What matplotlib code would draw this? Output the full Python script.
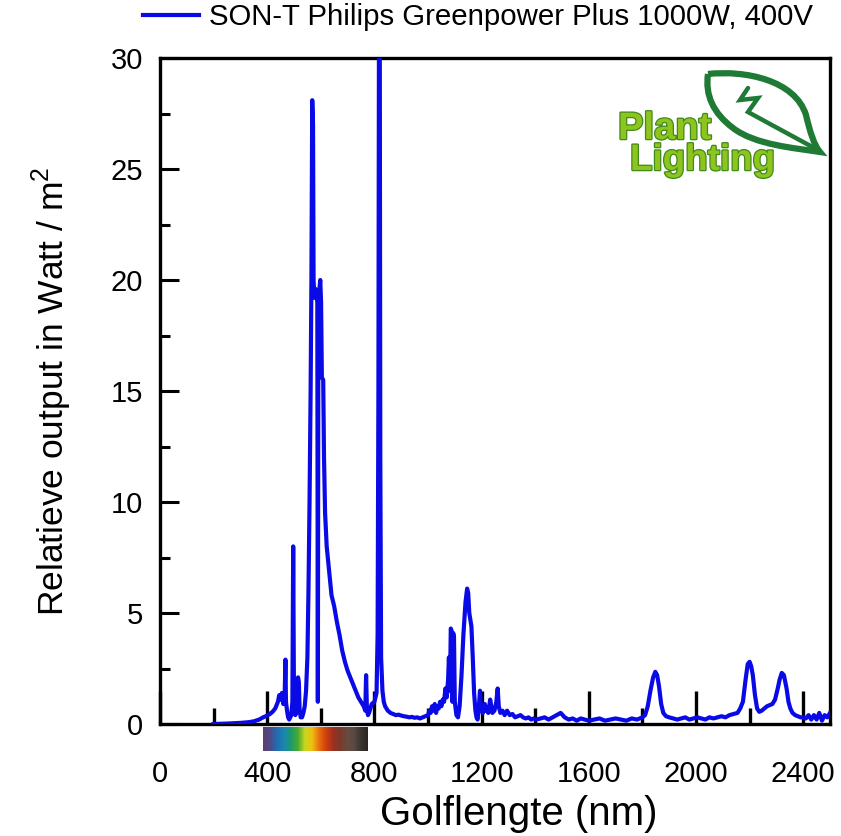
import numpy as np
import matplotlib
matplotlib.use("Agg")
import matplotlib.pyplot as plt
from matplotlib.ticker import MultipleLocator
from matplotlib.colors import LinearSegmentedColormap
from matplotlib.path import Path
from matplotlib.patches import PathPatch
import matplotlib.patheffects as pe

plt.rcParams['font.family'] = ['Liberation Sans', 'DejaVu Sans']
plt.rcParams['mathtext.fontset'] = 'custom'
plt.rcParams['mathtext.rm'] = 'Liberation Sans'

# Spectrum (golflengte in nm, output in W/m2)
golflengte = [
    200, 250, 300, 330, 350, 370, 385, 400, 410, 420, 430, 440, 445, 450, 455, 460, 465, 468, 470, 474,
    478, 482, 486, 490, 494, 497, 500, 505, 510, 515, 518, 521, 525, 530, 535, 540, 545, 550, 554, 558,
    562, 565, 568, 571, 573, 576, 580, 584, 587, 589, 591, 594, 598, 601, 604, 609, 612, 616, 622, 630,
    640, 650, 660, 670, 680, 690, 700, 710, 720, 730, 740, 750, 760, 766, 769, 772, 776, 780, 790, 800,
    808, 812, 815, 817, 820, 822, 825, 830, 835, 840, 850, 860, 870, 880, 890, 900, 910, 920, 930, 940,
    950, 960, 970, 980, 990, 1000, 1005, 1010, 1015, 1020, 1025, 1030, 1035, 1040, 1045, 1050, 1055, 1060, 1065, 1070,
    1075, 1078, 1082, 1085, 1088, 1091, 1094, 1097, 1100, 1106, 1112, 1118, 1125, 1132, 1140, 1146, 1150, 1154, 1158, 1162,
    1167, 1172, 1177, 1181, 1185, 1190, 1194, 1198, 1205, 1212, 1218, 1225, 1232, 1240, 1248, 1255, 1260, 1264, 1270, 1278,
    1286, 1295, 1305, 1315, 1325, 1335, 1345, 1355, 1365, 1375, 1385, 1395, 1405, 1420, 1435, 1450, 1465, 1480, 1495, 1510,
    1525, 1540, 1555, 1570, 1585, 1600, 1620, 1640, 1660, 1680, 1700, 1720, 1740, 1760, 1780, 1800, 1810, 1820, 1830, 1840,
    1848, 1855, 1862, 1870, 1878, 1888, 1900, 1915, 1930, 1945, 1960, 1975, 1990, 2005, 2020, 2035, 2050, 2065, 2080, 2095,
    2110, 2125, 2140, 2155, 2165, 2175, 2185, 2193, 2200, 2206, 2212, 2220, 2228, 2236, 2245, 2255, 2265, 2275, 2285, 2295,
    2305, 2312, 2320, 2328, 2333, 2338, 2345, 2352, 2360, 2370, 2380, 2390, 2400, 2410, 2420, 2430, 2440, 2450, 2460, 2470,
    2480, 2490, 2500,
]
output = [
    0.00, 0.02, 0.05, 0.08, 0.12, 0.20, 0.30, 0.38, 0.45, 0.55, 0.70, 1.00, 1.30, 1.10, 1.40, 0.90, 1.20, 2.90, 1.00, 0.60,
    0.30, 0.20, 0.30, 0.40, 1.00, 8.00, 0.80, 0.40, 0.60, 2.10, 1.90, 0.60, 0.30, 0.30, 0.50, 0.80, 1.50, 3.00, 6.00, 10.0,
    15.0, 20.0, 28.1, 27.0, 20.0, 19.2, 19.6, 19.3, 19.0, 1.00, 19.0, 19.5, 20.0, 19.0, 15.6, 15.5, 12.0, 9.50, 8.00, 7.00,
    5.80, 5.30, 4.60, 4.00, 3.30, 2.80, 2.40, 2.10, 1.80, 1.50, 1.20, 1.00, 0.80, 0.60, 2.20, 0.70, 0.40, 0.50, 0.90, 1.00,
    1.40, 4.00, 15.0, 31.0, 31.0, 12.0, 3.00, 1.50, 1.00, 0.80, 0.60, 0.50, 0.45, 0.40, 0.42, 0.38, 0.35, 0.33, 0.30, 0.32,
    0.28, 0.30, 0.25, 0.30, 0.35, 0.40, 0.60, 0.50, 0.80, 0.60, 0.90, 0.50, 0.80, 0.70, 1.00, 0.80, 1.10, 1.00, 1.60, 1.20,
    2.00, 3.00, 1.50, 4.30, 4.20, 1.00, 4.10, 3.90, 1.00, 0.40, 0.30, 0.80, 2.20, 4.00, 5.50, 6.10, 5.90, 5.00, 4.70, 4.40,
    3.00, 1.40, 0.60, 0.30, 0.20, 0.80, 1.50, 0.60, 0.50, 0.90, 0.60, 0.50, 1.10, 0.50, 0.60, 1.00, 1.60, 0.80, 0.50, 0.60,
    0.40, 0.60, 0.40, 0.45, 0.30, 0.35, 0.40, 0.30, 0.25, 0.30, 0.20, 0.25, 0.20, 0.25, 0.30, 0.20, 0.30, 0.40, 0.50, 0.30,
    0.20, 0.25, 0.15, 0.25, 0.20, 0.15, 0.20, 0.25, 0.15, 0.20, 0.25, 0.20, 0.15, 0.25, 0.20, 0.30, 0.40, 0.80, 1.50, 2.10,
    2.35, 2.20, 1.70, 0.90, 0.50, 0.35, 0.30, 0.25, 0.20, 0.25, 0.30, 0.20, 0.25, 0.30, 0.25, 0.20, 0.30, 0.25, 0.30, 0.35,
    0.30, 0.40, 0.45, 0.50, 0.70, 1.00, 2.00, 2.70, 2.80, 2.60, 2.20, 1.30, 0.70, 0.55, 0.60, 0.70, 0.80, 0.85, 0.90, 1.10,
    1.60, 2.00, 2.30, 2.20, 1.90, 1.60, 1.00, 0.70, 0.50, 0.40, 0.35, 0.30, 0.30, 0.25, 0.40, 0.20, 0.40, 0.20, 0.50, 0.15,
    0.40, 0.30, 0.50,
]

# Colours of the visible spectrum strip under the axis
spectrum_kleuren = ['#5b3f6b', '#4d4a8a', '#1f6fb0', '#1a86b0', '#1f9a6a', '#4aaa30', '#c8d820',
                    '#f0c010', '#e87010', '#d04010', '#a03020', '#7a3a2a', '#6a4a40', '#5a4a44',
                    '#3a3430', '#2a2520']
spectrum_bereik = [385, 774]

fig = plt.figure(figsize=(8.41, 8.36), dpi=100)
ax = fig.add_axes([160 / 841, 1 - 724 / 836, 670 / 841, 666 / 836])

lijn, = ax.plot(golflengte, output, color='#0a0ae6', lw=3.0, zorder=3,
                label='SON-T Philips Greenpower Plus 1000W, 400V')

# spectrum strip below the x axis
cmap = LinearSegmentedColormap.from_list('zichtbaar', spectrum_kleuren)
ax.imshow(np.linspace(0, 1, 256).reshape(1, -1), cmap=cmap, aspect='auto',
          extent=[spectrum_bereik[0], spectrum_bereik[1], -1.22, -0.14], clip_on=False, zorder=1)

ax.set_xlim(0, 2500)
ax.set_ylim(0, 30)

ax.xaxis.set_major_locator(MultipleLocator(400))
ax.xaxis.set_minor_locator(MultipleLocator(200))
ax.yaxis.set_major_locator(MultipleLocator(5))
ax.yaxis.set_minor_locator(MultipleLocator(2.5))

ax.tick_params(axis='x', which='major', direction='in', length=24, width=2.4, labelsize=21, pad=26)
ax.tick_params(axis='x', which='minor', direction='in', length=11.5, width=2.4)
ax.tick_params(axis='y', which='major', direction='in', length=14, width=2.2, labelsize=21, pad=12)
ax.tick_params(axis='y', which='minor', direction='in', length=7, width=2.2)
for s in ax.spines.values():
    s.set_linewidth(2.4)

ax.set_xlabel('Golflengte (nm)', fontsize=29)
ax.set_ylabel('Relatieve output in Watt / m$^2$', fontsize=25.5)
ax.xaxis.set_label_coords(0.536, -0.106)
ax.yaxis.set_label_coords(-0.128, 0.5)

ax.legend(handles=[lijn], loc='upper left', bbox_to_anchor=(143 / 841, 1 - 3 / 836),
          bbox_transform=fig.transFigure, frameon=False, fontsize=21.2,
          handlelength=1.9, handletextpad=0.35, borderpad=0, borderaxespad=0)

# Plant Lighting logo
def px(x, y):
    return (x / 841, 1 - y / 836)

blad = Path([px(708, 74), px(745, 70), px(795, 80), px(806, 115),
             px(810, 132), px(814, 145), px(820, 152),
             px(795, 148), px(755, 145), px(733, 128),
             px(713, 113), px(705, 95), px(708, 74)],
            [Path.MOVETO, Path.CURVE4, Path.CURVE4, Path.CURVE4,
             Path.CURVE4, Path.CURVE4, Path.CURVE4,
             Path.CURVE4, Path.CURVE4, Path.CURVE4,
             Path.CURVE4, Path.CURVE4, Path.CURVE4])
fig.add_artist(PathPatch(blad, facecolor='none', edgecolor='#1f7a35', lw=4.5, transform=fig.transFigure))
zigzag = Path([px(748, 88), px(740, 100), px(758, 98), px(748, 112), px(770, 124), px(818, 150)])
fig.add_artist(PathPatch(zigzag, facecolor='none', edgecolor='#1f7a35', lw=3.2,
                         transform=fig.transFigure, capstyle='round', joinstyle='miter'))
logo_effect = [pe.withStroke(linewidth=1.8, foreground='#3f8a1a')]
fig.text(*px(618, 139), 'Plant', fontsize=27.5, fontweight='bold', color='#8dc41e',
         ha='left', va='baseline', path_effects=logo_effect)
fig.text(*px(630, 170), 'Lighting', fontsize=26.5, fontweight='bold', color='#8dc41e',
         ha='left', va='baseline', path_effects=logo_effect)

fig.savefig('out.png', dpi=100)
